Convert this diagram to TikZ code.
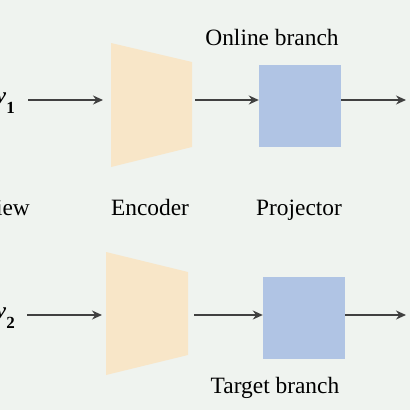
\documentclass[tikz,border=0pt]{standalone}
\usepackage{fontspec}
\setmainfont{Liberation Serif}
\usetikzlibrary{arrows.meta}
\definecolor{bgc}{HTML}{EFF3EF}
\definecolor{encc}{HTML}{F8E6C8}
\definecolor{projc}{HTML}{B0C4E4}
\definecolor{arrc}{HTML}{404040}
\begin{document}
\begin{tikzpicture}[x=1pt,y=-1pt,
  lbl/.style={font=\fontsize{23.4}{28}\selectfont, text=black, inner sep=0pt},
  conn/.style={draw=arrc, line width=1.4pt, -{Stealth[length=10pt,width=9pt]}},
  projbox/.style={fill=projc, draw=none, minimum width=82pt, minimum height=82pt, inner sep=0pt}]
\fill[bgc] (0,0) rectangle (410,410);
\useasboundingbox (0,0) rectangle (410,410);
% encoders
\fill[encc] (111,43) -- (192,62) -- (192,147) -- (111,167) -- cycle;
\fill[encc] (106,252) -- (188,272) -- (188,355) -- (106,375) -- cycle;
\coordinate (e1in) at (103,100);
\coordinate (e1out) at (195,100);
\coordinate (e2in) at (102,315);
\coordinate (e2out) at (194,315);
% projectors
\node[projbox] (p1) at (300,106) {};
\node[projbox] (p2) at (304,317.5) {};
% inputs
\node[lbl, anchor=base east] (v1) at (15,103) {\textbf{\textit{v}}\raisebox{-10pt}{\fontsize{17}{20}\selectfont\textbf{1}}};
\node[lbl, anchor=base east] (v2) at (15,318) {\textbf{\textit{v}}\raisebox{-10pt}{\fontsize{17}{20}\selectfont\textbf{2}}};
\coordinate (a1s) at (28,100);
\coordinate (a2s) at (27,315);
\coordinate (o1) at (406,100);
\coordinate (o2) at (406,315);
% arrows
\draw[conn] (a1s) -- (e1in);
\draw[conn] (e1out) -- (p1.west |- e1out);
\draw[conn] (p1.east |- o1) -- (o1);
\draw[conn] (a2s) -- (e2in);
\draw[conn] (e2out) -- (p2.west |- e2out);
\draw[conn] (p2.east |- o2) -- (o2);
% labels
\node[lbl, anchor=base east] (view) at (30,215) {View};
\node[lbl, anchor=base] (enc) at (150,215) {Encoder};
\node[lbl, anchor=base] (proj) at (299,215) {Projector};
\node[lbl, anchor=base] (online) at (272,45) {Online branch};
\node[lbl, anchor=base] (target) at (275,393) {Target branch};
\end{tikzpicture}
\end{document}
